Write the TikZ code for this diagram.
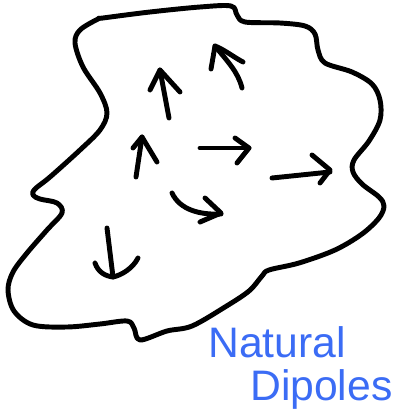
\documentclass[tikz,border=0pt]{standalone}
\usepackage{fontspec}
\setmainfont{Liberation Sans}
\definecolor{penblue}{RGB}{59,108,245}
\begin{document}
\begin{tikzpicture}[x=0.75pt,y=-0.75pt,
  pen/.style={line width=3.7pt,line cap=round,line join=round,black},
  label/.style={text=penblue,font=\fontsize{32}{36}\selectfont,inner sep=0pt,anchor=base west}]
\useasboundingbox (0,0) rectangle (392,416);
% outline
\draw[pen] plot[smooth cycle,tension=0.55] coordinates {
 (103,18) (150,12) (200,7) (231,6) (237,15) (245,22) (280,23) (305,26) (315,34) (318,50)
 (325,63) (352,72) (372,84) (380,100) (380,120) (369,141) (354,160) (353,172) (362,184)
 (379,197) (384,206) (379,218) (362,234) (335,250) (299,263) (269,270) (262,276) (249,291)
 (225,307) (192,326) (167,331) (140,340) (134,328) (127,321) (100,324) (67,327) (33,325)
 (14,311) (8,290) (13,272) (27,253) (47,230) (62,213) (57,203) (40,199) (33,195) (35,189)
 (50,177) (80,150) (100,130) (107,113) (100,93) (83,67) (75,43) (80,30) (98,19)};
% arrow A (top right)
\draw[pen] (242,88) .. controls (238,72) and (228,62) .. (215,46);
\draw[pen] (211,69) -- (215,46) .. controls (225,50) and (235,58) .. (243,62);
% arrow B
\draw[pen] (169,118) -- (160,70);
\draw[pen] (150,90) -- (160,70) -- (180,92);
% arrow C
\draw[pen] (136,177) -- (142,137);
\draw[pen] (133,148) -- (142,137) -- (157,162);
% arrow D
\draw[pen] (200,148) -- (249,148);
\draw[pen] (235,138) -- (249,148) -- (237,163);
% arrow E (curved)
\draw[pen] (172,193) .. controls (180,210) and (200,215) .. (221,214);
\draw[pen] (205,198) -- (221,213) -- (200,222);
% arrow F
\draw[pen] (272,178) -- (330,172);
\draw[pen] (312,155) -- (330,170) -- (320,183);
% arrow G (down)
\draw[pen] (107,228) -- (113,277);
\draw[pen] (95,263) .. controls (98,272) and (105,276) .. (113,277)
  .. controls (122,275) and (133,268) .. (138,258);
% label
\node[label] (nat) at (208,357) {Natural};
\node[label] (dip) at (250,400) {Dipoles};
\end{tikzpicture}
\end{document}
